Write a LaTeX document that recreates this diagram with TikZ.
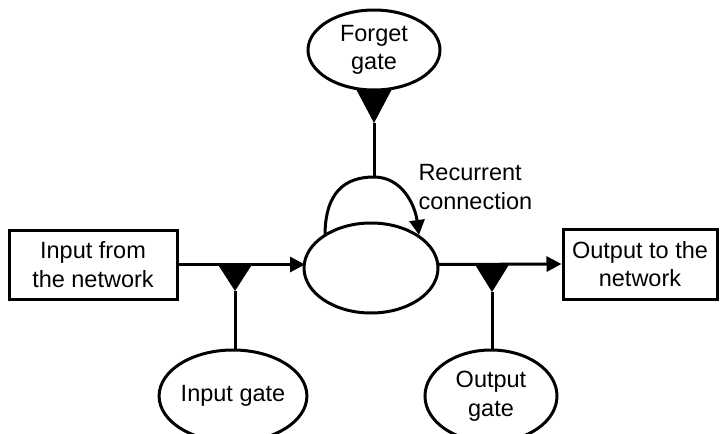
\documentclass[tikz,border=0pt]{standalone}
\usepackage{fontspec}
\setmainfont{Liberation Sans}
\usetikzlibrary{shapes.geometric,arrows.meta,calc}
\begin{document}
\begin{tikzpicture}[x=1pt,y=-1pt,line width=3pt,
  every node/.style={font=\fontsize{23.5}{28.5}\selectfont},
  box/.style={draw,rectangle,inner sep=0pt,align=center},
  oval/.style={draw,ellipse,inner sep=0pt,align=center},
  gatetri/.style={fill=black,draw=none},
  arr/.style={-{Triangle[length=15pt,width=15pt]}}]
\useasboundingbox (0,0) rectangle (721,434);
% nodes
\node[box,minimum width=168pt,minimum height=69pt] (inbox) at (93,264.5) {Input from\\the network};
\node[box,minimum width=154pt,minimum height=70pt] (outbox) at (640,264) {Output to the\\network};
\node[oval,minimum width=134pt,minimum height=90pt] (cell) at (371,268) {};
\node[oval,minimum width=132pt,minimum height=80pt] (forget) at (374,50) {Forget\\gate};
\node[oval,minimum width=136pt,minimum height=92pt] (igate) at (233,396) {Input gate};
\node[oval,minimum width=132pt,minimum height=92pt] (ogate) at (491,396) {Output\\gate};
\node[align=left,anchor=north west,inner sep=0pt] (rlabel) at (417,163) {Recurrent\\connection};
% coordinates
\coordinate (inA) at (inbox.east);
\coordinate (inB) at (305,264.5);
\coordinate (outA) at (437,264.5);
\coordinate (outB) at (outbox.west);
\coordinate (itip) at (235,291);
\coordinate (otip) at (492,292);
\coordinate (ftop) at (374,89);
\coordinate (ftip) at (374,123);
\coordinate (rstart) at (325,236);
\coordinate (rtop) at (374,177);
\coordinate (rend) at (419,235);
% connectors
\draw[arr] (inA) -- (inB);
\draw[arr] (outA) -- (outB);
\fill[gatetri] (217,263) -- (253,263) -- (itip) -- cycle;
\fill[gatetri] (474,263) -- (510,263) -- (otip) -- cycle;
\fill[gatetri] ($(ftop)+(-18,0)$) -- ($(ftop)+(18,0)$) -- (ftip) -- cycle;
\draw (itip) -- (igate.north -| itip);
\draw (otip) -- (ogate.north -| otip);
\draw (ftip) -- (rtop);
\draw[arr] (rstart) .. controls (325,192) and (345,177) .. (rtop) .. controls (402,177) and (415,205) .. (rend);
\end{tikzpicture}
\end{document}
